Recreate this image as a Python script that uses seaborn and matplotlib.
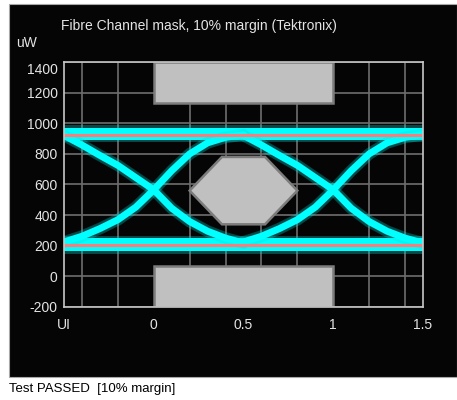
import numpy as np
import pandas as pd
import matplotlib
matplotlib.use('Agg')
import matplotlib.pyplot as plt
import matplotlib.transforms as mtransforms
from matplotlib.patches import Rectangle
import seaborn as sns

# eye traces: centre of each edge, one UI either side of a crossing (uW)
edge_x = [-0.5, -0.4, -0.3, -0.2, -0.1, 0.0, 0.1, 0.2, 0.3, 0.4, 0.5]
rise_y = [225, 262, 312, 370, 452, 565, 690, 800, 872, 908, 925]
fall_y = [920, 858, 790, 725, 645, 565, 445, 358, 295, 250, 218]
crossings = [0, 1]

# "1" / "0" level bands (dense core and sparse spread) and the red reference lines
high_band = [893, 972]
low_band = [165, 250]
high_spread = [875, 988]
low_spread = [148, 262]
ref_levels = [922, 205]

# Fibre Channel mask, 10% margin
top_mask_x = [0, 1, 1, 0]
top_mask_y = [1130, 1130, 1400, 1400]
bot_mask_x = [0, 1, 1, 0]
bot_mask_y = [-200, -200, 65, 65]
hex_x = [0.2, 0.38, 0.62, 0.8, 0.62, 0.38]
hex_y = [560, 780, 780, 560, 340, 340]

x_ticks = [-0.5, 0, 0.5, 1, 1.5]
x_labels = ['UI', '0', '0.5', '1', '1.5']
x_grid = [-0.4, -0.2, 0.0, 0.2, 0.4, 0.6, 0.8, 1.0, 1.2, 1.4]
y_ticks = [-200, 0, 200, 400, 600, 800, 1000, 1200, 1400]

rows = []
for c in crossings:
    for name, ys in [('rise', rise_y), ('fall', fall_y)]:
        for xx, yy in zip(edge_x, ys):
            rows.append({'x': c + xx, 'y': yy, 'trace': f'{name}{c}'})
traces = pd.DataFrame(rows)

sns.set_theme(style='dark')
plt.rcParams['font.family'] = ['Liberation Sans', 'DejaVu Sans']
plt.rcParams['axes.unicode_minus'] = False

fig = plt.figure(figsize=(4.57, 4.0), dpi=100, facecolor='white')
fig.patches.append(Rectangle((9 / 457, 23 / 400), 448 / 457, 373 / 400,
                             transform=fig.transFigure, facecolor='#050505',
                             edgecolor='#a8a8a8', lw=0.8, zorder=-10))

ax = fig.add_axes([64 / 457, 93 / 400, 359 / 457, 245 / 400])
ax.set_zorder(1)
ax.set_facecolor('#050505')

# level bands
ax.axhspan(*high_spread, color='#00e0e0', alpha=0.3, lw=0, zorder=2)
ax.axhspan(*low_spread, color='#00e0e0', alpha=0.3, lw=0, zorder=2)
ax.axhspan(*high_band, color='#00ffff', lw=0, zorder=2)
ax.axhspan(*low_band, color='#00ffff', lw=0, zorder=2)

# transitions
sns.lineplot(data=traces, x='x', y='y', units='trace', estimator=None, sort=False,
             color='#00e0e0', lw=8.5, alpha=0.3, ax=ax, legend=False, zorder=2)
sns.lineplot(data=traces, x='x', y='y', units='trace', estimator=None, sort=False,
             color='#00ffff', lw=5, ax=ax, legend=False, zorder=2)

# mask
for mx, my in [(top_mask_x, top_mask_y), (bot_mask_x, bot_mask_y), (hex_x, hex_y)]:
    ax.fill(mx, my, facecolor='#c0c0c0', edgecolor='#7c7c7c', lw=1.8, zorder=3)

for lvl in ref_levels:
    ax.axhline(lvl, color='#ff7b7b', lw=2.2, zorder=4)

ax.set_xlim(-0.5, 1.5)
ax.set_ylim(-200, 1400)
ax.set_xticks(x_ticks)
ax.set_xticklabels(x_labels)
ax.set_xticks(x_grid, minor=True)
ax.set_yticks(y_ticks)
ax.set_xlabel('')
ax.set_ylabel('')
ax.grid(False)
ax.grid(which='minor', axis='x', color='#6e6e6e', lw=1.2, zorder=1)
ax.grid(which='major', axis='y', color='#6e6e6e', lw=1.2, zorder=1)
ax.tick_params(axis='both', which='both', length=0, colors='#e4e4e4', labelsize=10)
ax.tick_params(axis='x', pad=8)
ax.tick_params(axis='y', pad=4.5)
for s in ax.spines.values():
    s.set_visible(True)
    s.set_color('#c8c8c8')
    s.set_linewidth(1.2)
    s.set_zorder(5)

# top y label sits below its gridline on the scope display
top_lbl = ax.get_yticklabels()[-1]
top_lbl.set_transform(top_lbl.get_transform() +
                      mtransforms.ScaledTranslation(0, -7 / 100, fig.dpi_scale_trans))

fig.text(61 / 457, 1 - 26 / 400, 'Fibre Channel mask, 10% margin (Tektronix)',
         color='#e4e4e4', fontsize=10, ha='left', va='center')
fig.text(16 / 457, 1 - 43 / 400, 'uW', color='#e4e4e4', fontsize=10,
         ha='left', va='center')
fig.text(9 / 457, 1 - 389 / 400, 'Test PASSED  [10% margin]', color='black',
         fontsize=9.5, ha='left', va='center')

fig.savefig('out.png', dpi=100, facecolor='white')
